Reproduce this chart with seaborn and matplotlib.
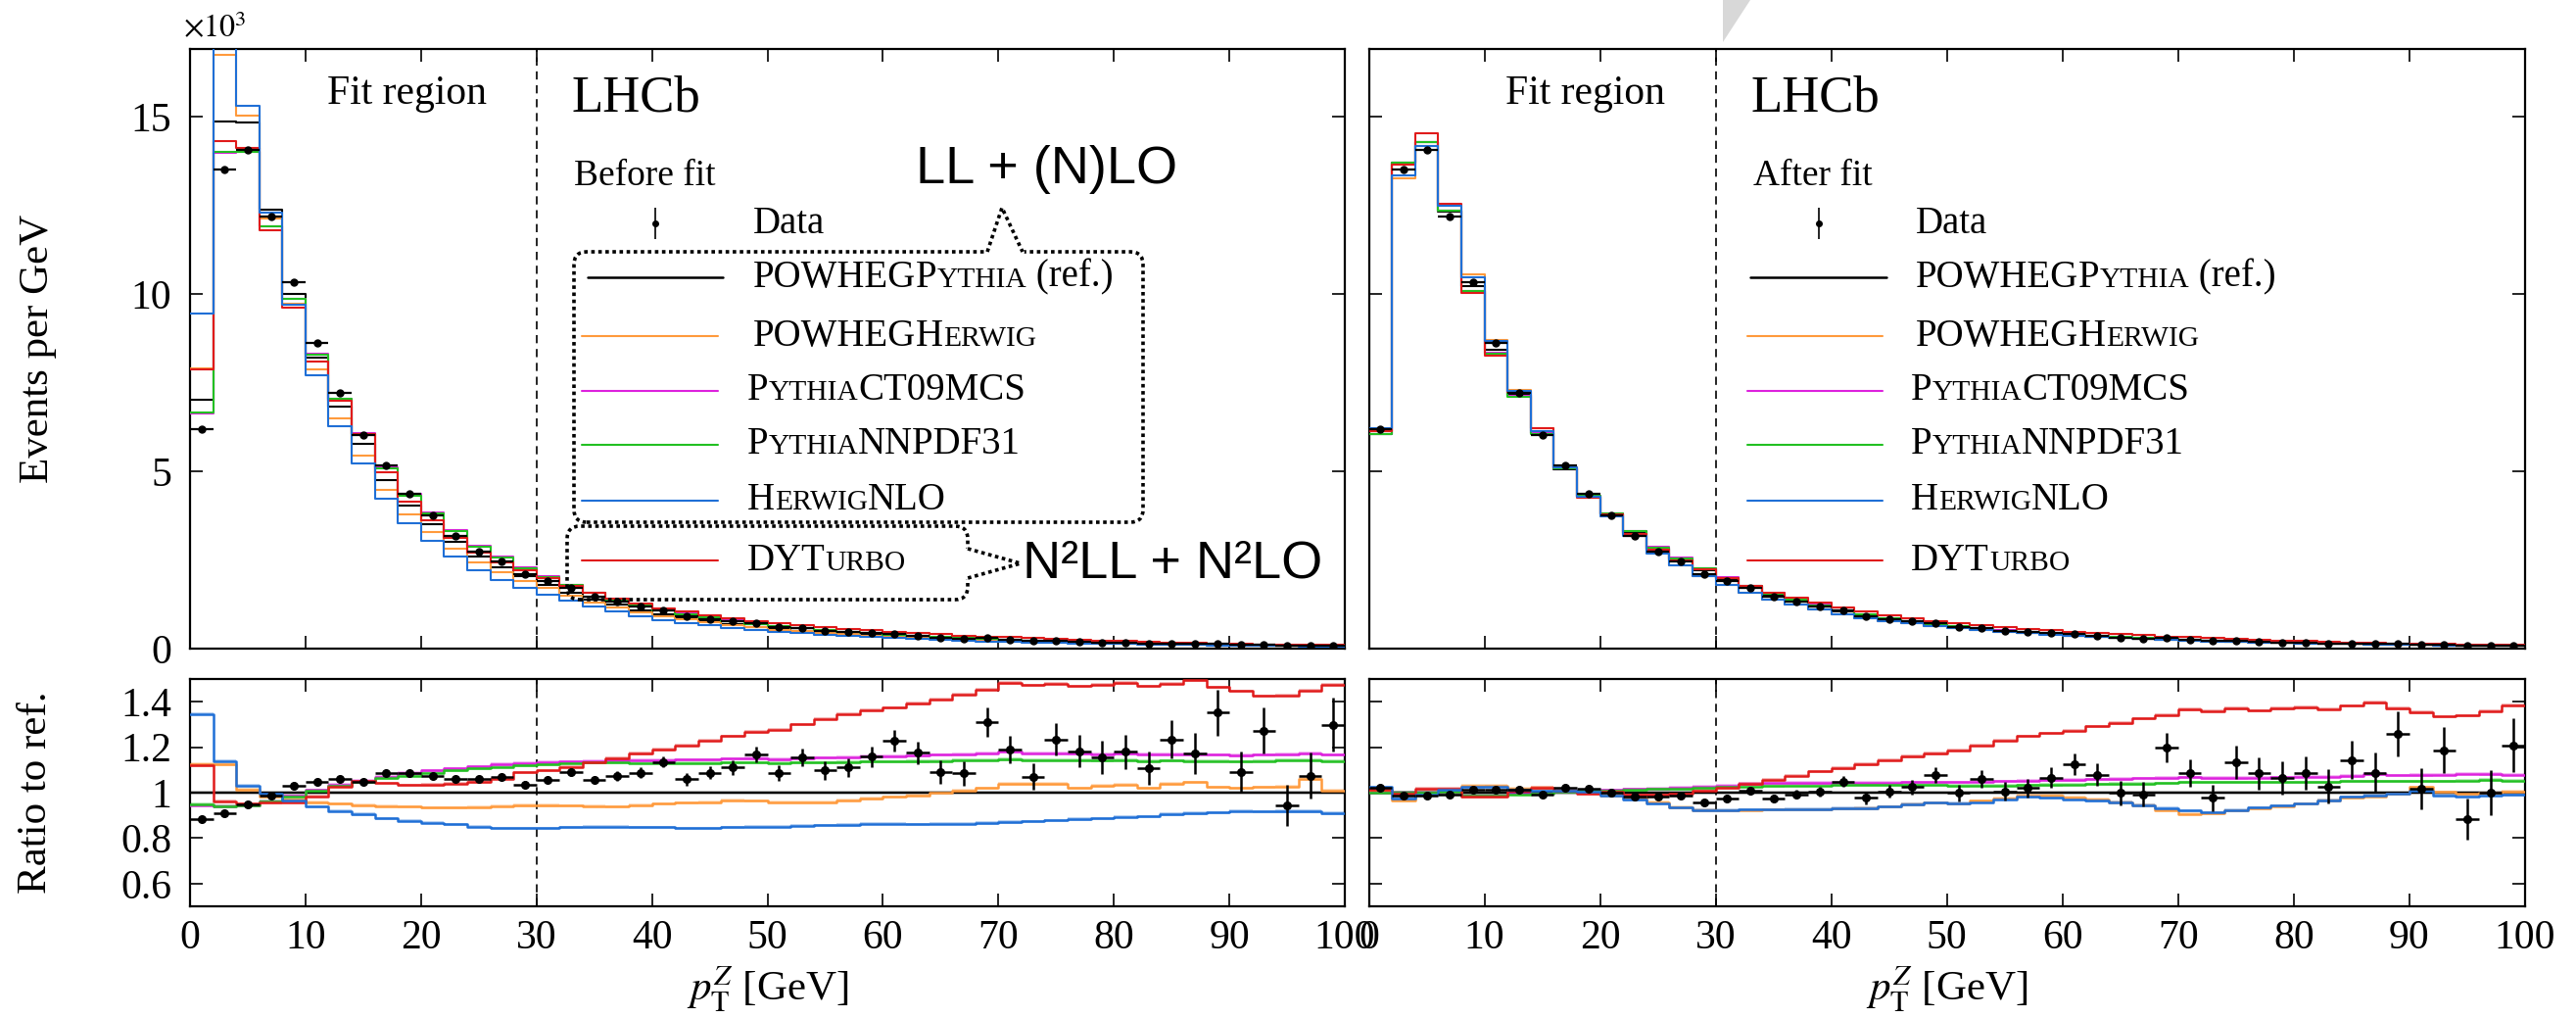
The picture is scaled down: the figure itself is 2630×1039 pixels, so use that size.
import numpy as np
import matplotlib
matplotlib.use("Agg")
import matplotlib.pyplot as plt
import seaborn as sns
from matplotlib.patches import FancyBboxPatch, Polygon, Rectangle
from matplotlib.lines import Line2D
from matplotlib.offsetbox import TextArea, HPacker, AnchoredOffsetbox
from matplotlib.ticker import FormatStrFormatter

sns.set_theme(style="ticks", rc={"axes.edgecolor": "black", "xtick.color": "black",
                                 "ytick.color": "black", "text.color": "black",
                                 "axes.labelcolor": "black"})
plt.rcParams["font.family"] = ["Liberation Serif", "DejaVu Serif"]
plt.rcParams["mathtext.fontset"] = "stix"

# bins of pT(Z), 2 GeV wide
edges = np.arange(0, 102, 2)
centers = edges[:-1] + 1

# reference prediction (POWHEG+Pythia), events per GeV in units of 10^3
ref_before = [7.01, 14.87, 14.82, 12.36, 10.01, 8.21, 6.81, 5.76, 4.76, 4.02,
              3.51, 3.01, 2.59, 2.30, 2.03, 1.80, 1.58, 1.39, 1.23, 1.09,
              0.96, 0.86, 0.77, 0.69, 0.62, 0.56, 0.505, 0.458, 0.415, 0.378,
              0.344, 0.313, 0.285, 0.260, 0.237, 0.216, 0.198, 0.181, 0.166, 0.152,
              0.140, 0.129, 0.119, 0.110, 0.101, 0.094, 0.087, 0.080, 0.074, 0.069]
ref_after = [6.06, 13.70, 14.27, 12.32, 10.21, 8.43, 7.16, 6.08, 5.06, 4.28,
             3.77, 3.27, 2.81, 2.50, 2.21, 1.95, 1.71, 1.50, 1.33, 1.18,
             1.04, 0.93, 0.83, 0.745, 0.67, 0.605, 0.545, 0.495, 0.448, 0.408,
             0.372, 0.338, 0.308, 0.281, 0.257, 0.234, 0.214, 0.196, 0.179, 0.164,
             0.151, 0.139, 0.128, 0.118, 0.109, 0.101, 0.094, 0.086, 0.080, 0.075]

# ratios to reference, before fit
pwherwig_b = [1.125, 1.125, 1.013, 0.981, 0.970, 0.959, 0.952, 0.945, 0.941, 0.938,
              0.934, 0.934, 0.936, 0.941, 0.944, 0.944, 0.942, 0.941, 0.939, 0.945,
              0.952, 0.955, 0.959, 0.967, 0.964, 0.959, 0.959, 0.959, 0.967, 0.974,
              0.981, 0.988, 0.998, 1.010, 1.021, 1.039, 1.039, 1.039, 1.021, 1.030,
              1.036, 1.020, 1.039, 1.046, 1.024, 1.020, 1.024, 1.027, 1.060, 1.010]
ct09_b = [0.946, 0.940, 0.944, 0.962, 0.985, 1.012, 1.035, 1.053, 1.071, 1.086,
          1.097, 1.107, 1.115, 1.125, 1.130, 1.134, 1.137, 1.140, 1.143, 1.143,
          1.144, 1.146, 1.146, 1.149, 1.151, 1.147, 1.151, 1.154, 1.157, 1.160,
          1.161, 1.164, 1.166, 1.169, 1.173, 1.179, 1.174, 1.174, 1.171, 1.169,
          1.171, 1.169, 1.169, 1.169, 1.166, 1.164, 1.166, 1.169, 1.173, 1.167]
nnpdf_b = [0.948, 0.941, 0.945, 0.962, 0.984, 1.010, 1.032, 1.049, 1.065, 1.075,
           1.088, 1.097, 1.107, 1.114, 1.121, 1.125, 1.131, 1.133, 1.133, 1.131,
           1.131, 1.130, 1.131, 1.133, 1.133, 1.131, 1.133, 1.133, 1.135, 1.137,
           1.137, 1.138, 1.140, 1.143, 1.143, 1.147, 1.144, 1.143, 1.143, 1.141,
           1.143, 1.140, 1.141, 1.140, 1.140, 1.137, 1.140, 1.143, 1.144, 1.140]
herwig_b = [1.346, 1.140, 1.032, 0.995, 0.967, 0.938, 0.919, 0.905, 0.887, 0.876,
            0.867, 0.861, 0.851, 0.844, 0.844, 0.844, 0.848, 0.851, 0.850, 0.848,
            0.847, 0.844, 0.844, 0.848, 0.851, 0.851, 0.854, 0.856, 0.858, 0.863,
            0.863, 0.861, 0.863, 0.863, 0.866, 0.871, 0.874, 0.878, 0.884, 0.887,
            0.893, 0.896, 0.905, 0.909, 0.913, 0.919, 0.916, 0.918, 0.918, 0.909]
dyturbo_b = [1.121, 0.962, 0.952, 0.955, 0.959, 0.984, 1.027, 1.050, 1.042, 1.033,
             1.034, 1.040, 1.047, 1.062, 1.089, 1.097, 1.114, 1.133, 1.151, 1.172,
             1.190, 1.209, 1.229, 1.248, 1.267, 1.277, 1.301, 1.325, 1.346, 1.363,
             1.374, 1.392, 1.411, 1.433, 1.454, 1.483, 1.472, 1.479, 1.469, 1.476,
             1.483, 1.469, 1.479, 1.496, 1.464, 1.447, 1.426, 1.428, 1.450, 1.476]
data_b = [0.883, 0.909, 0.948, 0.985, 1.032, 1.049, 1.060, 1.046, 1.085, 1.085,
          1.072, 1.059, 1.059, 1.068, 1.036, 1.058, 1.092, 1.055, 1.073, 1.088,
          1.135, 1.059, 1.088, 1.111, 1.167, 1.086, 1.154, 1.097, 1.111, 1.159,
          1.229, 1.176, 1.089, 1.085, 1.310, 1.190, 1.071, 1.234, 1.183, 1.154,
          1.179, 1.108, 1.234, 1.172, 1.352, 1.089, 1.273, 0.945, 1.075, 1.299]
data_err = [0.004, 0.004, 0.004, 0.005, 0.005, 0.006, 0.006, 0.007, 0.008, 0.009,
            0.010, 0.011, 0.012, 0.013, 0.014, 0.015, 0.017, 0.018, 0.020, 0.022,
            0.025, 0.027, 0.029, 0.032, 0.035, 0.036, 0.038, 0.040, 0.042, 0.045,
            0.048, 0.050, 0.052, 0.055, 0.064, 0.060, 0.058, 0.072, 0.070, 0.073,
            0.075, 0.075, 0.085, 0.090, 0.100, 0.090, 0.100, 0.090, 0.100, 0.120]

# ratios to reference, after fit
pwherwig_a = [1.010, 0.967, 0.993, 1.003, 1.032, 1.032, 1.017, 1.022, 1.007, 1.003,
              0.988, 0.978, 0.959, 0.935, 0.923, 0.921, 0.923, 0.926, 0.926, 0.926,
              0.929, 0.931, 0.938, 0.949, 0.956, 0.952, 0.964, 0.974, 0.988, 0.988,
              0.978, 0.970, 0.959, 0.945, 0.923, 0.906, 0.909, 0.921, 0.931, 0.941,
              0.952, 0.967, 0.978, 0.984, 0.996, 1.024, 1.003, 0.996, 0.998, 1.006]
ct09_a = [0.998, 1.000, 1.001, 1.003, 0.988, 0.988, 0.994, 0.997, 1.004, 1.008,
          1.012, 1.016, 1.019, 1.022, 1.027, 1.032, 1.039, 1.042, 1.043, 1.043,
          1.045, 1.045, 1.045, 1.046, 1.046, 1.046, 1.049, 1.050, 1.053, 1.056,
          1.056, 1.059, 1.060, 1.063, 1.065, 1.068, 1.065, 1.065, 1.066, 1.068,
          1.071, 1.071, 1.073, 1.082, 1.076, 1.078, 1.079, 1.084, 1.082, 1.079]
nnpdf_a = [0.998, 1.000, 1.001, 1.003, 0.987, 0.987, 0.993, 0.996, 1.003, 1.007,
           1.010, 1.013, 1.016, 1.017, 1.022, 1.024, 1.027, 1.030, 1.032, 1.032,
           1.033, 1.033, 1.033, 1.034, 1.034, 1.030, 1.032, 1.032, 1.033, 1.034,
           1.036, 1.037, 1.039, 1.039, 1.042, 1.046, 1.046, 1.046, 1.046, 1.046,
           1.046, 1.046, 1.050, 1.050, 1.050, 1.050, 1.050, 1.053, 1.056, 1.053]
herwig_a = [1.024, 0.974, 0.993, 1.013, 1.024, 1.027, 1.013, 1.007, 1.010, 1.003,
            0.988, 0.970, 0.952, 0.934, 0.923, 0.923, 0.926, 0.926, 0.928, 0.928,
            0.931, 0.931, 0.938, 0.949, 0.955, 0.953, 0.959, 0.971, 0.981, 0.978,
            0.971, 0.965, 0.959, 0.945, 0.931, 0.921, 0.912, 0.923, 0.934, 0.942,
            0.952, 0.967, 0.981, 0.987, 0.996, 1.010, 0.988, 0.984, 0.988, 0.991]
dyturbo_a = [1.013, 0.996, 1.017, 1.017, 0.981, 0.981, 1.010, 1.022, 1.010, 0.996,
             1.003, 0.991, 0.993, 0.996, 1.010, 1.022, 1.039, 1.056, 1.075, 1.094,
             1.108, 1.125, 1.143, 1.160, 1.172, 1.186, 1.209, 1.229, 1.248, 1.262,
             1.273, 1.291, 1.306, 1.327, 1.342, 1.366, 1.359, 1.371, 1.361, 1.371,
             1.375, 1.368, 1.382, 1.397, 1.371, 1.353, 1.335, 1.339, 1.359, 1.385]
data_a = [1.021, 0.988, 0.987, 0.993, 1.013, 1.013, 1.011, 0.991, 1.021, 1.016,
          0.999, 0.984, 0.983, 0.985, 0.955, 0.975, 1.007, 0.975, 0.993, 1.006,
          1.049, 0.977, 1.006, 1.024, 1.078, 0.999, 1.060, 1.006, 1.020, 1.065,
          1.125, 1.079, 0.998, 0.993, 1.197, 1.088, 0.978, 1.133, 1.085, 1.063,
          1.086, 1.027, 1.144, 1.088, 1.258, 1.017, 1.187, 0.884, 1.001, 1.209]

c_orange = "#ff9a3c"
c_magenta = "#dd22dd"
c_green = "#22c022"
c_blue = "#1f6fd6"
c_red = "#e01b1b"

W, H = 2630, 1039
fig = plt.figure(figsize=(W / 100, H / 100), dpi=100)


def px_axes(x0, y0, x1, y1):
    return fig.add_axes([x0 / W, 1 - y1 / H, (x1 - x0) / W, (y1 - y0) / H])


ax_tl = px_axes(194, 50, 1373, 662)
ax_bl = px_axes(194, 693, 1373, 925)
ax_tr = px_axes(1397.5, 50, 2578, 662)
ax_br = px_axes(1397.5, 693, 2578, 925)


def step(ax, vals, color, lw, z):
    vals = np.asarray(vals, dtype=float)
    y = np.append(vals, vals[-1])
    sns.lineplot(x=edges, y=y, drawstyle="steps-post", color=color, linewidth=lw,
                 ax=ax, zorder=z, estimator=None, sort=False, legend=False)


def band(ax, vals, color, half=0.007):
    vals = np.asarray(vals, dtype=float)
    y = np.append(vals, vals[-1])
    ax.fill_between(edges, y - half, y + half, step="post", color=color, alpha=0.3, lw=0, zorder=2)


panels = [
    (ax_tl, ax_bl, ref_before,
     [pwherwig_b, ct09_b, nnpdf_b, dyturbo_b, herwig_b], data_b),
    (ax_tr, ax_br, ref_after,
     [pwherwig_a, ct09_a, nnpdf_a, dyturbo_a, herwig_a], data_a),
]
model_colors = [c_orange, c_magenta, c_green, c_red, c_blue]

data_top = np.asarray(ref_before) * np.asarray(data_b)
data_top_err = data_top * np.asarray(data_err) / np.asarray(data_b)

for ax_t, ax_r, ref, models, dratio in panels:
    ref = np.asarray(ref)
    # main panel
    step(ax_t, ref, "black", 1.5, 4)
    for i, (m, c) in enumerate(zip(models, model_colors)):
        step(ax_t, ref * np.asarray(m), c, 1.5, 4 + i)
    ax_t.errorbar(centers, data_top, xerr=1, yerr=data_top_err, fmt="o", ms=5,
                  color="black", elinewidth=1.6, capsize=0, zorder=12)
    # ratio panel
    ax_r.axhspan(0.993, 1.007, color="0.55", alpha=0.45, lw=0, zorder=2)
    ax_r.axhline(1.0, color="black", lw=1.6, zorder=3)
    for i, (m, c) in enumerate(zip(models, model_colors)):
        band(ax_r, m, c)
        step(ax_r, m, c, 1.8, 4 + i)
    ax_r.errorbar(centers, dratio, xerr=1, yerr=data_err, fmt="o", ms=5.5,
                  color="black", elinewidth=1.8, capsize=0, zorder=12)

for ax in [ax_tl, ax_bl, ax_tr, ax_br]:
    ax.axvline(30, color="black", ls=(0, (5, 3.5)), lw=1.2, zorder=3)
    ax.set_xlim(0, 100)
    ax.set_xticks(range(0, 101, 10))
    ax.tick_params(which="major", direction="in", top=True, right=True, length=9.5,
                   width=1.2, labelsize=30)
    ax.tick_params(axis="y", pad=13.5)
    ax.tick_params(axis="x", pad=9.5)
    for s in ax.spines.values():
        s.set_linewidth(1.6)
        s.set_color("black")

for ax in [ax_tl, ax_tr]:
    ax.set_ylim(0, 16.9)
    ax.set_yticks([0, 5, 10, 15])
    ax.tick_params(labelbottom=False)
for ax in [ax_bl, ax_br]:
    ax.set_ylim(0.5, 1.5)
    ax.set_yticks([0.6, 0.8, 1.0, 1.2, 1.4])
    ax.yaxis.set_major_formatter(FormatStrFormatter("%g"))
    ax.set_xlabel(r"$p_{\mathrm{T}}^{Z}$ [GeV]", fontsize=31, va="center")
    ax.xaxis.set_label_coords(0.5, -0.366)
for ax in [ax_tr, ax_br]:
    ax.tick_params(labelleft=False)

ax_tl.set_ylabel("Events per GeV", fontsize=31, va="center")
ax_tl.yaxis.set_label_coords(-0.1315, 0.5)
ax_bl.set_ylabel("Ratio to ref.", fontsize=31, va="center")
ax_bl.yaxis.set_label_coords(-0.1332, 0.5)

# multiplier above the y axis
for ax in [ax_tl, ax_tr]:
    ax.text(-0.006, 1.008, r"$\times10^{3}$", transform=ax.transAxes, fontsize=23,
            ha="left", va="bottom")
# the right-hand multiplier is cut off in the original
fig.patches.append(Rectangle((1380 / W, 1 - 37 / H), 130 / W, 37 / H, transform=fig.transFigure,
                             color="white", zorder=50))
fig.patches.append(Polygon([(1759 / W, 1.0), (1787 / W, 1.0), (1759 / W, 1 - 43 / H)],
                           closed=True, transform=fig.transFigure, color="#d8d8d8", lw=0, zorder=51))

# labels inside the panels
for ax in [ax_tl, ax_tr]:
    ax.text(0.1875, 0.926, "Fit region", transform=ax.transAxes, fontsize=30,
            ha="center", va="center")
    ax.text(0.330, 0.918, "LHCb", transform=ax.transAxes, fontsize=38,
            ha="left", va="center")


def sc_label(ax, fx, fy, parts, size=28):
    kids = [TextArea(t, textprops=dict(fontsize=size * (0.76 if sc else 1.0)))
            for t, sc in parts]
    box = HPacker(children=kids, align="baseline", pad=0, sep=0)
    anch = AnchoredOffsetbox(loc="center left", child=box, pad=0, borderpad=0, frameon=False,
                             bbox_to_anchor=(fx, fy), bbox_transform=ax.transAxes)
    anch.set_zorder(20)
    ax.add_artist(anch)


labels = [
    [("POWHEG", 0), ("P", 0), ("YTHIA", 1), (" (ref.)", 0)],
    [("POWHEG", 0), ("H", 0), ("ERWIG", 1)],
    [("P", 0), ("YTHIA", 1), ("CT09MCS", 0)],
    [("P", 0), ("YTHIA", 1), ("NNPDF31", 0)],
    [("H", 0), ("ERWIG", 1), ("NLO", 0)],
    [("DYT", 0), ("URBO", 1)],
]
leg_colors = ["black", c_orange, c_magenta, c_green, c_blue, c_red]
leg_y = [0.619, 0.521, 0.430, 0.340, 0.247, 0.147]

legend_cfg = [
    (ax_tl, "Before fit", 0.394, 0.403, 0.4877, 0.4826, (0.344, 0.461), (0.339, 0.457)),
    (ax_tr, "After fit", 0.384, 0.389, 0.473, 0.469, (0.330, 0.448), (0.327, 0.444)),
]
for ax, title, tx, dx, lx0, lx1, seg0, seg1 in legend_cfg:
    ax.text(tx, 0.788, title, transform=ax.transAxes, fontsize=27, ha="center", va="center")
    ax.errorbar([dx], [0.709], yerr=[0.026], fmt="o", ms=4, color="black", elinewidth=1.2,
                capsize=0, transform=ax.transAxes, clip_on=False, zorder=20)
    ax.text(lx0, 0.709, "Data", transform=ax.transAxes, fontsize=28, ha="left", va="center")
    for k, (parts, c, y) in enumerate(zip(labels, leg_colors, leg_y)):
        seg = seg0 if k == 0 else seg1
        ax.add_line(Line2D(seg, [y, y], transform=ax.transAxes, color=c,
                           lw=1.8 if k == 0 else 1.5, zorder=20))
        sc_label(ax, lx0 if k < 2 else lx1, y, parts)

# dotted call-out boxes (left panel), positioned in inches
inch = fig.dpi_scale_trans


def px(x, y):
    return (x / 100, (H - y) / 100)


dot = (0, (1, 1))
box1 = FancyBboxPatch(px(586, 533), 5.81, 2.76, boxstyle="round,pad=0,rounding_size=0.13",
                      fill=False, ec="black", lw=2.6, ls=dot, transform=inch, clip_on=False, zorder=15)
box2 = FancyBboxPatch(px(579, 612), 4.09, 0.75, boxstyle="round,pad=0,rounding_size=0.13",
                      fill=False, ec="black", lw=2.6, ls=dot, transform=inch, clip_on=False, zorder=15)
ax_tl.add_patch(box1)
ax_tl.add_patch(box2)
gap1 = [px(1010, 257), px(1042, 257)]
gap2 = [px(988, 562), px(988, 588)]
for g in [gap1, gap2]:
    ax_tl.add_line(Line2D([g[0][0], g[1][0]], [g[0][1], g[1][1]], transform=inch, color="white",
                          lw=5, zorder=16, clip_on=False))
ptr1 = [px(1008, 257), px(1023, 212), px(1044, 257)]
ptr2 = [px(988, 560), px(1042, 575), px(988, 590)]
for p in [ptr1, ptr2]:
    ax_tl.add_line(Line2D([q[0] for q in p], [q[1] for q in p], transform=inch, color="black",
                          lw=2.6, ls=dot, zorder=17, clip_on=False))

ax_tl.text(0.742, 0.799, "LL + (N)LO", transform=ax_tl.transAxes, fontsize=39,
           family="Liberation Sans", ha="center", va="center")
ax_tl.text(0.721, 0.142, "N\u00b2LL + N\u00b2LO", transform=ax_tl.transAxes, fontsize=39,
           family="Liberation Sans", ha="left", va="center", zorder=20)

fig.savefig("out.png", dpi=100)
